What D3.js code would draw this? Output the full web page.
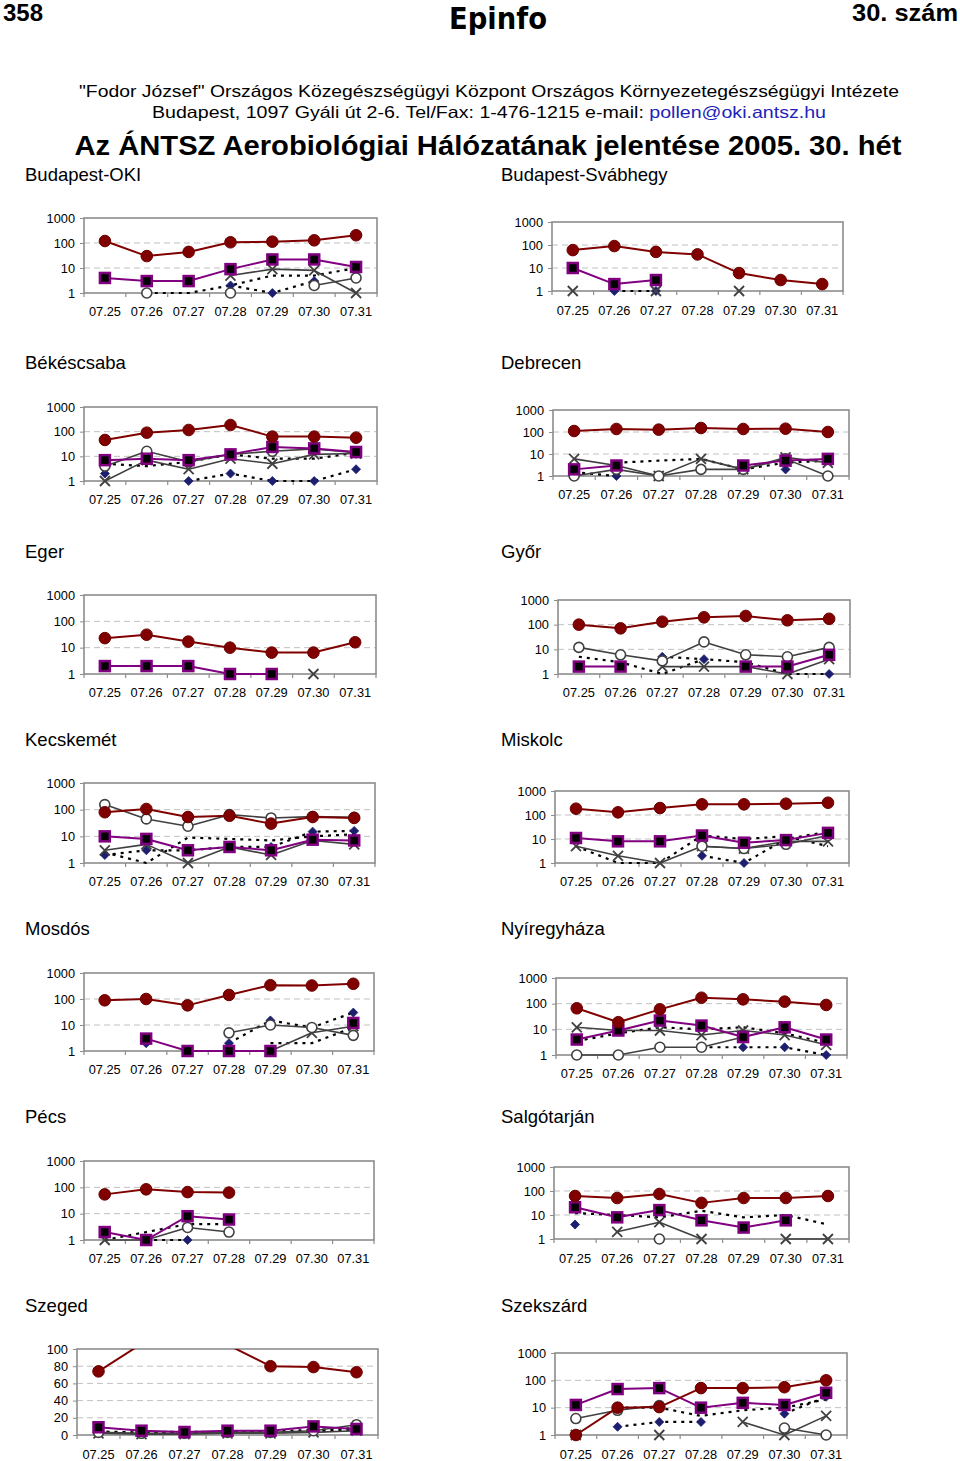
<!DOCTYPE html>
<html><head><meta charset="utf-8">
<script src="https://cdn.jsdelivr.net/npm/d3@7"></script>
<style>body{margin:0;background:#fff}svg{display:block}text{font-family:"Liberation Sans",Arial,sans-serif}</style>
</head><body>
<svg id="c" width="960" height="1461"></svg>
<script>
// ---------- data ----------
const dates = ["07.25","07.26","07.27","07.28","07.29","07.30","07.31"];
const logTicks = [1,10,100,1000];
const linTicks = [0,20,40,60,80,100];
// series order in each station: [A red circles, B purple squares, C open circles, D crosses, E diamonds (dotted), F dotted]
const seriesKeys = ["A","B","C","D","E","F"];
const _ = null;
const budapestOKI = [
  [120,30,44,107,113,128,204],
  [4,3,3,9,22,22,11],
  [_,1,_,1,_,2,4],
  [_,_,_,5,9,8,1],
  [_,_,_,2,1,3,_],
  [_,1,1,2,5,5,10]];
const budapestSvab = [
  [60,90,50,39,6,3,2],
  [10,2,3,_,_,_,_],
  [_,_,_,_,_,_,_],
  [1,_,1,_,1,_,_],
  [_,1,1,_,_,_,_],
  [_,_,_,_,_,_,_]];
const bekescsaba = [
  [46,91,117,186,63,63,57],
  [7,8,7,12,24,21,15],
  [4,16,6,12,16,20,14],
  [1,7,3,8,5,12,13],
  [2,_,1,2,1,1,3],
  [5,4,6,12,8,8,14]];
const debrecen = [
  [111,137,128,152,137,141,100],
  [2,3,_,_,3,5,6],
  [1,2,1,2,2,6,1],
  [6,3,1,6,2,7,4],
  [1.5,1,_,_,_,2,_],
  [_,4,5,6,2,4,5]];
const eger = [
  [23,31,17,10,6.5,6.5,16],
  [2,2,2,1,1,_,_],
  [_,_,_,_,_,_,_],
  [_,_,_,_,_,1,_],
  [_,_,_,_,_,_,_],
  [_,_,_,_,_,_,_]];
const gyor = [
  [100,71,132,198,225,150,173],
  [2,2,_,_,2,2,6],
  [12,6,3.4,20,6,5,12],
  [_,_,2,2,2,1,4],
  [_,_,5,4,_,_,1],
  [5,3,1,4,3,1,1]];
const kecskemet = [
  [80,106,53,59,30,53,49],
  [10,8,3,4,3,7.5,7],
  [155,45,24,65,49,55,52],
  [3,5,1,4,2,7,5],
  [2,3,3,4,4,15,16],
  [2.5,1,9,8,7,10,12]];
const miskolc = [
  [183,129,195,278,278,296,325],
  [11,8,8,14,7,9,18],
  [_,_,_,5,4,6,14],
  [5,2,1,5,4,8,8],
  [_,_,_,2,1,10,20],
  [5,1,1,14,10,13,5]];
const mosdos = [
  [89,100,57,143,340,330,385],
  [_,3,1,1,1,_,12],
  [_,_,_,5,10,8,4],
  [_,_,_,_,1,5,9],
  [_,2,_,2,15,8,30],
  [_,_,_,_,2,2,8]];
const nyiregyhaza = [
  [66,19,60,170,147,120,89],
  [4,9,22,14,5,12,4],
  [1,1,2,2,5,_,_],
  [12,9,9,6,9,6,2.5],
  [_,_,_,2,2,2,1],
  [3.5,7,12,10,12,7,3]];
const pecs = [
  [54,84,66,63,_,_,_],
  [2,1,8,6,_,_,_],
  [_,1,3,2,_,_,_],
  [1,1,_,_,_,_,_],
  [_,1,1,_,_,_,_],
  [1,2,4,4,_,_,_]];
const salgotarjan = [
  [62,51,75,32,51,51,62],
  [21,8,16,6,3,6,_],
  [_,_,1,_,_,_,_],
  [_,2,5,1,_,1,1],
  [4,_,_,_,_,_,_],
  [12,10,8,15,8,10,4]];
const szeged = [
  [74,106,130,105,80,79,73],
  [9,5,3.5,5,5,10,7],
  [3,2,2,3,3,5,12],
  [2,1,1,2,2,3,5],
  [4,3,4,3,4,6,8],
  [3,2,3,3,3,4,6]];
const szekszard = [
  [1,10,10.5,52,52,56,100],
  [12.6,48,52,10,15,12.6,35],
  [4,8,12,_,_,1.8,1],
  [1,_,1,_,3,1,5],
  [_,2,3,3,_,6,25],
  [_,10,10,5,8,10,20]];

const stationNames = ["Budapest-OKI","Budapest-Svábhegy","Békéscsaba","Debrecen","Eger","Győr","Kecskemét","Miskolc","Mosdós","Nyíregyháza","Pécs","Salgótarján","Szeged","Szekszárd"];
const stationData = [budapestOKI,budapestSvab,bekescsaba,debrecen,eger,gyor,kecskemet,miskolc,mosdos,nyiregyhaza,pecs,salgotarjan,szeged,szekszard];

// ---------- layout (positions only) ----------
// [left, right, top, bottom, titleY, xLabelY]
const boxes = [
  [84,377,218,293,174,311],[552,843,222,291,174,310],
  [84,377,407,481,362,499],[553,849,410,476,362,494],
  [84,376,595,674,551,692],[558,850,600,674,551,692],
  [84,375,783,863,739,881],[555,849,791,863,739,881],
  [84,374,973,1051,928,1069],[556,847,978,1055,928,1073],
  [84,374,1161,1240,1116,1258],[554,849,1167,1239,1116,1258],
  [77,378,1349,1435,1305,1454],[555,847,1353,1435,1305,1454]];

const styles = {
  F:{stroke:"#000",width:2.2,dash:"3,5",marker:null},
  E:{stroke:"#000",width:2.2,dash:"3,5",marker:"diamond"},
  D:{stroke:"#404040",width:1.6,dash:null,marker:"x"},
  C:{stroke:"#404040",width:1.6,dash:null,marker:"open"},
  B:{stroke:"#800080",width:2,dash:null,marker:"square"},
  A:{stroke:"#800000",width:2,dash:null,marker:"circle"}};
const drawOrder = ["F","E","D","C","B","A"];

const svg = d3.select("#c");

// ---------- header ----------
svg.append("text").attr("x",3).attr("y",21).attr("font-size",24).attr("font-weight","bold").text("358");
svg.append("text").attr("x",958).attr("y",21).attr("text-anchor","end").attr("font-size",24).attr("font-weight","bold").attr("textLength",106).attr("lengthAdjust","spacingAndGlyphs").text("30. szám");
svg.append("text").attr("x",498).attr("y",29).attr("text-anchor","middle").attr("font-size",30).attr("font-weight","900")
  .style("font-family","'DejaVu Sans'").attr("textLength",98).attr("lengthAdjust","spacingAndGlyphs").text("Epinfo");
svg.append("text").attr("x",489).attr("y",97).attr("text-anchor","middle").attr("font-size",16.5)
  .attr("textLength",820).attr("lengthAdjust","spacingAndGlyphs")
  .text("\"Fodor József\" Országos Közegészségügyi Központ Országos Környezetegészségügyi Intézete");
const l2 = svg.append("text").attr("x",489).attr("y",118).attr("text-anchor","middle").attr("font-size",16.5)
  .attr("textLength",674).attr("lengthAdjust","spacingAndGlyphs");
l2.append("tspan").text("Budapest, 1097 Gyáli út 2-6. Tel/Fax: 1-476-1215 e-mail: ");
l2.append("tspan").attr("fill","#2222bb").text("pollen@oki.antsz.hu");
svg.append("text").attr("x",488).attr("y",155).attr("text-anchor","middle").attr("font-size",27).attr("font-weight","bold")
  .attr("textLength",827).attr("lengthAdjust","spacingAndGlyphs")
  .text("Az ÁNTSZ Aerobiológiai Hálózatának jelentése 2005. 30. hét");

// ---------- markers ----------
function drawMarker(g, type, x, y){
  if(type==="circle") g.append("circle").attr("cx",x).attr("cy",y).attr("r",5.8).attr("fill","#800000").attr("stroke","#6a0000").attr("stroke-width",1);
  else if(type==="square") g.append("rect").attr("x",x-5).attr("y",y-5).attr("width",10).attr("height",10).attr("fill","#000").attr("stroke","#800080").attr("stroke-width",2.5);
  else if(type==="open") g.append("circle").attr("cx",x).attr("cy",y).attr("r",5).attr("fill","#fff").attr("stroke","#404040").attr("stroke-width",1.6);
  else if(type==="x") g.append("path").attr("d",`M${x-5},${y-5}L${x+5},${y+5}M${x-5},${y+5}L${x+5},${y-5}`).attr("stroke","#404040").attr("stroke-width",1.8).attr("fill","none");
  else if(type==="diamond") g.append("path").attr("d",`M${x},${y-4.5}L${x+4.5},${y}L${x},${y+4.5}L${x-4.5},${y}Z`).attr("fill","#1c1f6e").attr("stroke","#1c1f6e").attr("stroke-width",0.8);
}

// ---------- panels ----------
stationNames.forEach((name,i)=>{
  const [L,R,T,B,titleY,xlY] = boxes[i];
  const isLin = name==="Szeged";
  const col = i%2;
  const g = svg.append("g");
  g.append("text").attr("x",col?501:25).attr("y",titleY+6.5).attr("font-size",18.5).text(name);

  const x = d3.scaleBand().domain(dates).range([L,R]);
  const y = isLin ? d3.scaleLinear().domain([0,100]).range([B,T]) : d3.scaleLog().domain([1,1000]).range([B,T]);
  const ticks = isLin ? linTicks : logTicks;

  // gridlines
  g.selectAll(".grid").data(ticks.filter(t=>y(t)>T+1 && y(t)<B-1)).enter().append("line")
    .attr("x1",L).attr("x2",R).attr("y1",d=>y(d)).attr("y2",d=>y(d))
    .attr("stroke","#c0c0c0").attr("stroke-width",1).attr("stroke-dasharray","6,4");
  // frame
  g.append("rect").attr("x",L).attr("y",T).attr("width",R-L).attr("height",B-T).attr("fill","none").attr("stroke","#8c8c8c").attr("stroke-width",1.6);

  // y axis
  const ya = d3.axisLeft(y).tickValues(ticks).tickSize(4).tickPadding(5).tickFormat(d3.format("d"));
  const yg = g.append("g").attr("transform",`translate(${L},0)`).call(ya);
  yg.select(".domain").remove();
  yg.selectAll("line").attr("stroke","#8c8c8c");
  yg.selectAll("text").attr("font-size",12.8).attr("fill","#000").style("font-family","'Liberation Sans',Arial,sans-serif");

  // x axis
  const xa = d3.axisBottom(x).tickSize(0).tickPadding(0);
  const xg = g.append("g").attr("transform",`translate(0,${B})`).call(xa);
  xg.select(".domain").remove();
  xg.selectAll("text").attr("y",xlY-B+4.5).attr("dy",0).attr("font-size",12.8).attr("fill","#000").style("font-family","'Liberation Sans',Arial,sans-serif");
  // category boundary ticks
  const bounds = dates.map(d=>x(d)).concat([R]);
  g.selectAll(".bt").data(bounds).enter().append("line")
    .attr("x1",d=>d).attr("x2",d=>d).attr("y1",B).attr("y2",B+4).attr("stroke","#8c8c8c").attr("stroke-width",1.2);

  // clip
  const cid = "clip"+i;
  svg.append("clipPath").attr("id",cid).append("rect").attr("x",L-8).attr("y",T).attr("width",R-L+16).attr("height",B-T+4);

  const data = stationData[i];
  const cx = d=>x(d)+x.bandwidth()/2;
  drawOrder.forEach(k=>{
    const vals = data[seriesKeys.indexOf(k)];
    const st = styles[k];
    const pts = dates.map((d,j)=>({d, v: vals[j]}));
    const line = d3.line().defined(p=>p.v!=null).x(p=>cx(p.d)).y(p=>y(p.v));
    g.append("path").attr("d",line(pts)).attr("fill","none").attr("stroke",st.stroke).attr("stroke-width",st.width)
      .attr("stroke-dasharray",st.dash).attr("clip-path",`url(#${cid})`).attr("stroke-linejoin","round");
    if(st.marker){
      pts.filter(p=>p.v!=null && y(p.v)>=T-0.5).forEach(p=>drawMarker(g,st.marker,cx(p.d),y(p.v)));
    }
  });
});
</script>
</body></html>
